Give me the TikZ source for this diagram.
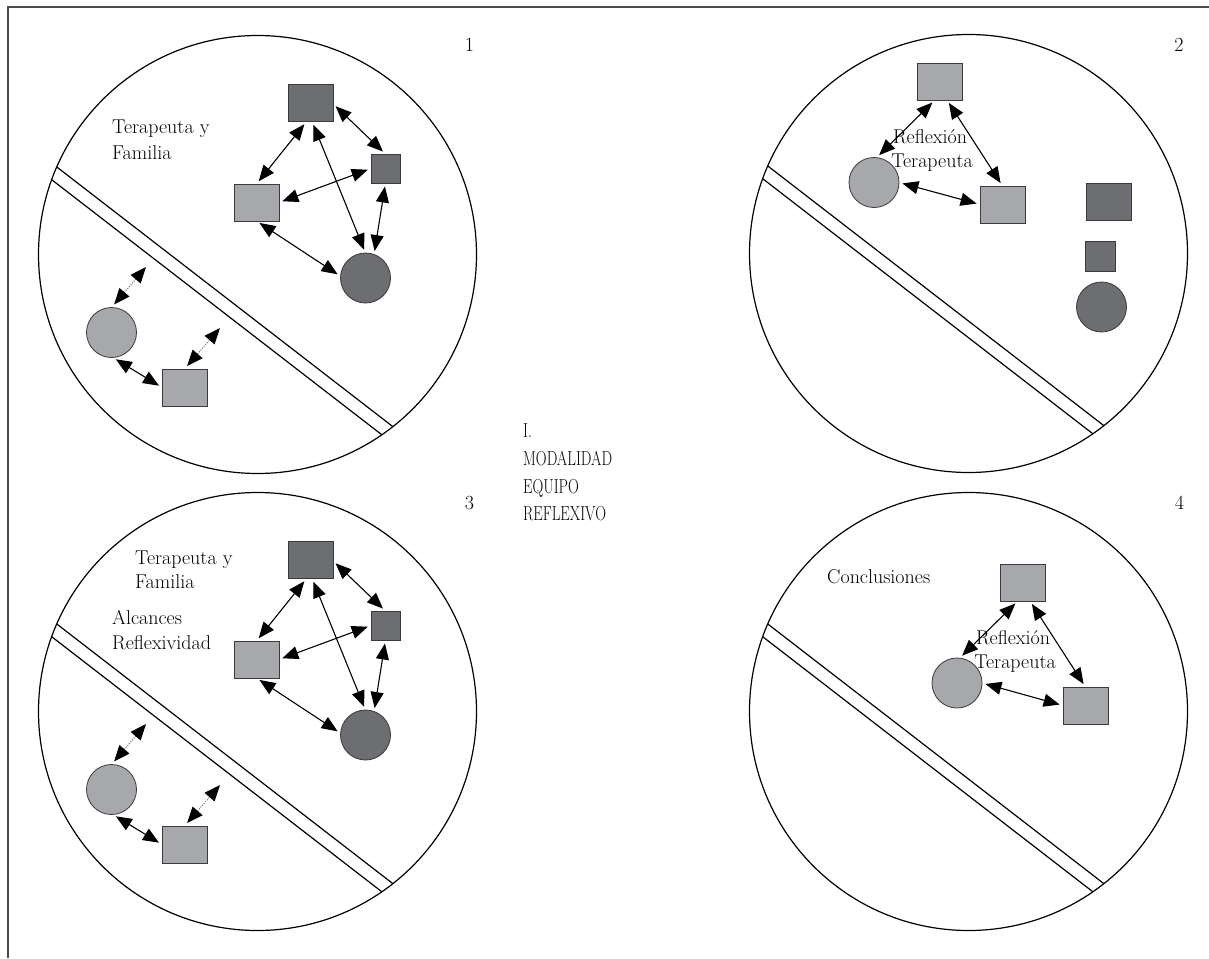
\documentclass[tikz,border=0pt]{standalone}
\usepackage{fontspec}
\usepackage{graphicx}
\usetikzlibrary{arrows.meta}
\definecolor{lightgr}{HTML}{A7A8AB}
\definecolor{darkgr}{HTML}{6D6E72}
\definecolor{edgegr}{HTML}{3A3A3C}
\definecolor{framegr}{HTML}{4A4A4A}
\tikzset{
  sqbox/.style={rectangle, draw=edgegr, line width=0.8pt, inner sep=0pt, outer sep=0pt, minimum width=45pt, minimum height=37pt},
  smallbox/.style={rectangle, draw=edgegr, line width=0.8pt, inner sep=0pt, outer sep=0pt, minimum width=29pt, minimum height=29pt},
  ball/.style={circle, draw=edgegr, line width=0.8pt, inner sep=0pt, outer sep=0pt, minimum size=50pt},
  lightfill/.style={fill=lightgr},
  darkfill/.style={fill=darkgr},
  lbl/.style={inner sep=0pt, font=\fontsize{20}{24}\selectfont},
  biglbl/.style={inner sep=0pt, font=\fontsize{15}{19}\selectfont},
  link/.style={line width=1.1pt, {Triangle[length=16pt,width=13pt]}-{Triangle[length=16pt,width=13pt]}, shorten <=3.5pt, shorten >=3.5pt},
  dotlink/.style={line width=1pt, draw=gray, dash pattern=on 1.2pt off 1.2pt, {Triangle[length=16pt,width=13pt,color=black]}-{Triangle[length=16pt,width=13pt,color=black]}},
  panelline/.style={line width=1.2pt, draw=black},
}
\newcommand\tallcaps[1]{\scalebox{1}[1.35]{#1}}
\newcommand\panelcircle[2]{%
  \begin{scope}[shift={(#1,#2)}]
    \begin{scope}
      \clip (0,0) circle[radius=219pt];
      \draw[panelline] (-279,-148) -- (213.5,232.5);
      \draw[panelline] (-287.1,-137.6) -- (205.4,242.9);
    \end{scope}
    \draw[panelline] (0,0) circle[radius=219pt];
  \end{scope}}
\newcommand\familygroup[2]{% prefix, y shift
  \begin{scope}[shift={(0,#2)}]
    \node[sqbox, darkfill] (#1ts) at (310.5,103) {};
    \node[smallbox, darkfill] (#1ss) at (385.5,168.5) {};
    \node[sqbox, lightfill] (#1ls) at (256.5,202.5) {};
    \node[ball, darkfill] (#1dc) at (365.5,278) {};
    \node[ball, lightfill] (#1lc) at (111.5,332.5) {};
    \node[sqbox, lightfill] (#1lb) at (184.5,387.5) {};
    \coordinate (#1d1) at (146,267);
    \coordinate (#1d2) at (220,328);
    \draw[link] (#1ts.-102) -- (#1ls.north);
    \draw[link] (#1ts.-2) -- (#1ss.north);
    \draw[link] (#1ss.west) -- (#1ls.east);
    \draw[link] (#1ts.-85) -- (#1dc.north);
    \draw[link] (#1ss.south) -- (#1dc.70);
    \draw[link] (#1ls.south) -- (#1dc.176);
    \draw[link] (#1lc.-87) -- (#1lb.west);
    \draw[dotlink, shorten <=4pt] (#1lc.north) -- (#1d1);
    \draw[dotlink, shorten <=4pt] (#1lb.north) -- (#1d2);
  \end{scope}}
\begin{document}
\begin{tikzpicture}[x=1pt,y=-1pt]
\useasboundingbox (0,0) rectangle (1209,958);
\fill[white] (0,0) rectangle (1209,958);
% frame
\draw[line width=2pt, framegr] (8,958) -- (8,7) -- (1209,7);

% circles with double division lines
\panelcircle{257.5}{254.5}
\panelcircle{968.5}{253.5}
\panelcircle{257.5}{711.5}
\panelcircle{968.5}{711.5}

% numbers
\node[lbl, anchor=base] (n1) at (469.5,52) {1};
\node[lbl, anchor=base] (n2) at (1179,52) {2};
\node[lbl, anchor=base] (n3) at (469.5,509) {3};
\node[lbl, anchor=base] (n4) at (1179.5,509) {4};

% central title
\node[biglbl, anchor=base west] (t1) at (523,437) {\tallcaps{I.}};
\node[biglbl, anchor=base west] (t2) at (523,465) {\tallcaps{MODALIDAD}};
\node[biglbl, anchor=base west] (t3) at (523,493) {\tallcaps{EQUIPO}};
\node[biglbl, anchor=base west] (t4) at (523,520) {\tallcaps{REFLEXIVO}};

% panel 1
\familygroup{a}{0}
\node[lbl, anchor=base west] (a-txt1) at (112,133) {Terapeuta y};
\node[lbl, anchor=base west] (a-txt2) at (112,159) {Familia};

% panel 3
\familygroup{c}{457}
\node[lbl, anchor=base west] (c-txt1) at (135,564) {Terapeuta y};
\node[lbl, anchor=base west] (c-txt2) at (135,588) {Familia};
\node[lbl, anchor=base west] (c-txt3) at (112,624) {Alcances};
\node[lbl, anchor=base west] (c-txt4) at (112,649) {Reflexividad};

% panel 2
\node[sqbox, lightfill] (bt) at (939.5,81.5) {};
\node[ball, lightfill] (bc) at (874,182.5) {};
\node[sqbox, lightfill] (bs) at (1002.5,204.5) {};
\node[sqbox, darkfill] (bd1) at (1108.5,201.5) {};
\node[smallbox, darkfill, minimum width=30pt, minimum height=30pt] (bd2) at (1100,256) {};
\node[ball, darkfill] (bdc) at (1101.5,307) {};
\draw[link] (bt.-104) -- (bc.84);
\draw[link] (bt.-68) -- (bs.north);
\draw[link] (bc.east) -- (bs.west);
\node[lbl, anchor=base] (b-txt1) at (930,143) {Reflexión};
\node[lbl, anchor=base] (b-txt2) at (932,167) {Terapeuta};

% panel 4
\node[sqbox, lightfill] (dt) at (1022.5,582.5) {};
\node[ball, lightfill] (dc) at (957,683) {};
\node[sqbox, lightfill] (ds) at (1085.5,705.5) {};
\draw[link] (dt.-104) -- (dc.84);
\draw[link] (dt.-68) -- (ds.north);
\draw[link] (dc.east) -- (ds.west);
\node[lbl, anchor=base] (d-txt1) at (1013,644) {Reflexión};
\node[lbl, anchor=base] (d-txt2) at (1015,668) {Terapeuta};
\node[lbl, anchor=base west] (d-txt3) at (827,583) {Conclusiones};
\end{tikzpicture}
\end{document}
